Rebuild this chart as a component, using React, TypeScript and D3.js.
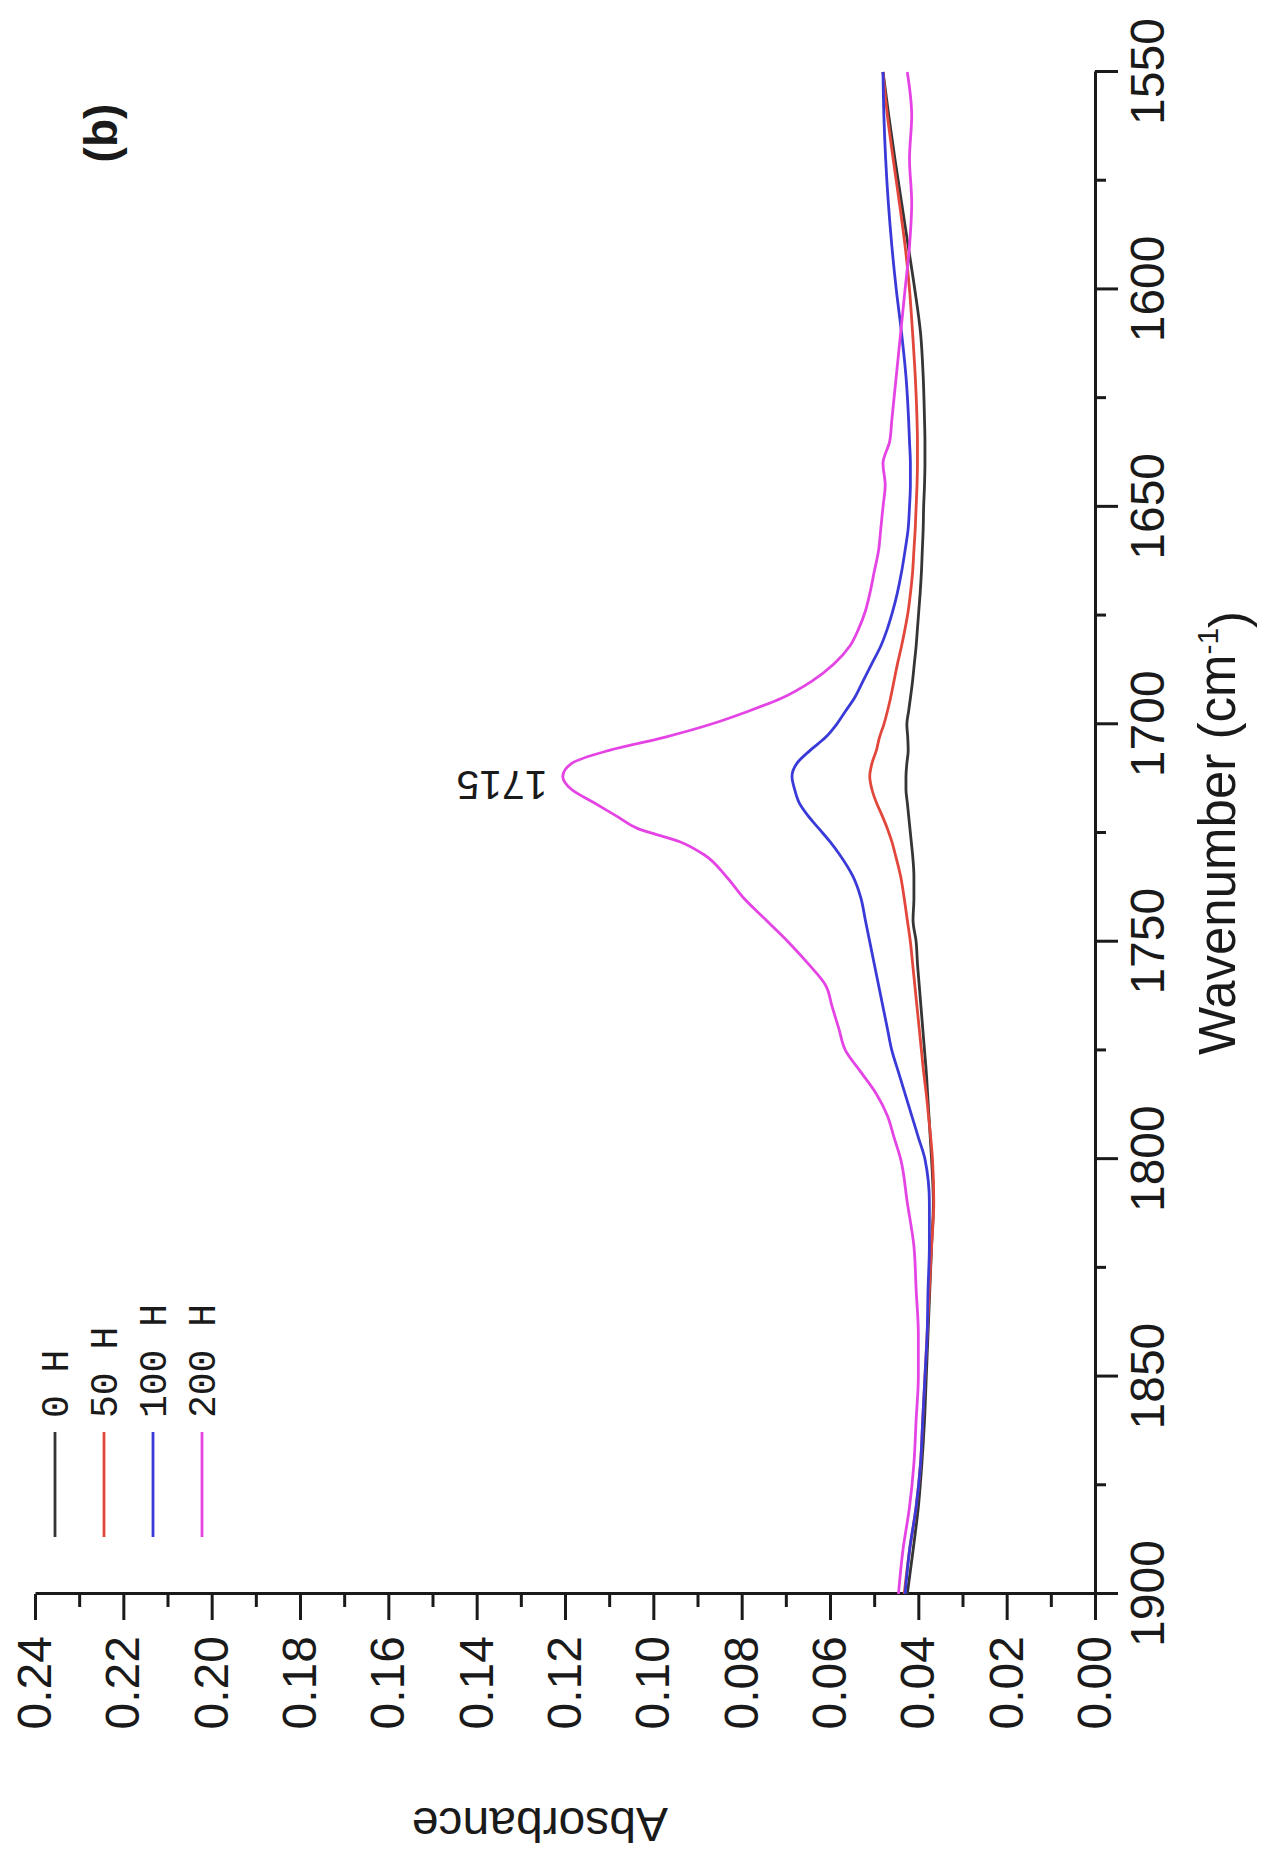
import React, { useRef, useEffect } from 'react';
import * as d3 from 'd3';

const wavenumbers = [
  1900, 1890, 1880, 1870, 1860, 1850, 1840, 1830, 1820, 1810, 1800,
  1795, 1790, 1785, 1780, 1775, 1770, 1765, 1760, 1755, 1750, 1745, 1740, 1735, 1730,
  1727, 1724, 1721, 1718, 1715, 1712, 1709, 1706, 1703, 1700, 1697, 1694,
  1690, 1686, 1682, 1678, 1674, 1670,
  1665, 1660, 1655, 1650, 1645, 1640, 1635, 1630,
  1620, 1610, 1600, 1590, 1580, 1570, 1560, 1550,
];

const abs0H = [
  0.0425, 0.0412, 0.04, 0.0392, 0.0386, 0.0382, 0.0378, 0.0374, 0.037, 0.0366, 0.037,
  0.0373, 0.0376, 0.0379, 0.0382, 0.0386, 0.039, 0.0394, 0.0398, 0.0402, 0.0405, 0.0412, 0.041, 0.041, 0.0413,
  0.0416, 0.0419, 0.0422, 0.0425, 0.0428, 0.0428, 0.0426, 0.0423, 0.0424, 0.0426, 0.0422, 0.0418,
  0.0413, 0.0409, 0.0405, 0.0402, 0.0399, 0.0396,
  0.0393, 0.0391, 0.0389, 0.0388, 0.0386, 0.0385, 0.0385, 0.0386,
  0.0389, 0.0395, 0.0408, 0.0423, 0.0438, 0.0453, 0.0467, 0.048,
];

const abs50H = [
  0.0432, 0.042, 0.0405, 0.0395, 0.039, 0.0385, 0.038, 0.0375, 0.037, 0.0365, 0.0368,
  0.0372, 0.0377, 0.0382, 0.0388, 0.0393, 0.0398, 0.0403, 0.0408, 0.0413, 0.0418, 0.0425, 0.0432, 0.044, 0.0452,
  0.046, 0.047, 0.0482, 0.0495, 0.0505, 0.051, 0.0505, 0.0495, 0.0488, 0.0478, 0.047, 0.0463,
  0.0455, 0.0447, 0.0438, 0.043, 0.0423, 0.0418,
  0.0413, 0.041, 0.0407, 0.0405, 0.0403, 0.0402, 0.0402, 0.0403,
  0.0407, 0.0413, 0.042, 0.043, 0.0443, 0.0457, 0.047, 0.048,
];

const abs100H = [
  0.043, 0.042, 0.0405, 0.0395, 0.039, 0.0385, 0.038, 0.0378, 0.0375, 0.0375, 0.0385,
  0.04, 0.0415, 0.043, 0.0445, 0.046, 0.047, 0.048, 0.049, 0.05, 0.051, 0.052, 0.053, 0.0548, 0.0578,
  0.06, 0.0625, 0.065, 0.067, 0.068, 0.0686, 0.0675, 0.0645, 0.061, 0.0585, 0.0565, 0.0545,
  0.0525, 0.0505, 0.0485, 0.047, 0.0458, 0.0448,
  0.0438, 0.043, 0.0423, 0.042, 0.0418, 0.0418, 0.042, 0.0422,
  0.0428, 0.0438, 0.045, 0.046, 0.0468, 0.0474, 0.0478, 0.048,
];

const abs200H = [
  0.0445, 0.0435, 0.042, 0.041, 0.0405, 0.04, 0.04, 0.0405, 0.041, 0.0425, 0.044,
  0.0455, 0.047, 0.0495, 0.053, 0.0565, 0.058, 0.0595, 0.061, 0.065, 0.0695, 0.0745, 0.0795, 0.0835, 0.0885,
  0.094, 0.1035, 0.1085, 0.1135, 0.1185, 0.1205, 0.1185, 0.11, 0.0975, 0.087, 0.0785, 0.071,
  0.064, 0.059, 0.0555, 0.0535, 0.052, 0.051,
  0.05, 0.049, 0.0485, 0.048, 0.0475, 0.048, 0.0465, 0.046,
  0.045, 0.044, 0.043, 0.042, 0.0415, 0.042, 0.0415, 0.0425,
];

const seriesNames = ['0 H', '50 H', '100 H', '200 H'];
const seriesColors = ['#353535', '#e2473c', '#3a3ad8', '#e544e5'];

const wnMajorTicks = [1900, 1850, 1800, 1750, 1700, 1650, 1600, 1550];
const wnMinorTicks = [1875, 1825, 1775, 1725, 1675, 1625, 1575];
const absMajorTicks = [0, 0.02, 0.04, 0.06, 0.08, 0.1, 0.12, 0.14, 0.16, 0.18, 0.2, 0.22, 0.24];
const absMinorTicks = [0.01, 0.03, 0.05, 0.07, 0.09, 0.11, 0.13, 0.15, 0.17, 0.19, 0.21, 0.23];

const App: React.FC = () => {
  const svgRef = useRef<SVGSVGElement | null>(null);

  useEffect(() => {
    if (!svgRef.current) return;
    const svg = d3.select(svgRef.current);
    svg.selectAll('*').remove();

    // plot is drawn upright, then turned a quarter turn counter-clockwise
    const plotW = 1522;
    const plotH = 1060;
    const font = "'Liberation Sans', Arial, sans-serif";

    const g = svg.append('g').attr('transform', 'translate(35,1594) rotate(-90)');

    const x = d3.scaleLinear().domain([1900, 1550]).range([0, plotW]);
    const y = d3.scaleLinear().domain([0, 0.24]).range([plotH, 0]);

    // bottom axis (wavenumber)
    const xAxis = g
      .append('g')
      .attr('transform', `translate(0,${plotH})`)
      .call(
        d3
          .axisBottom(x)
          .tickValues(wnMajorTicks)
          .tickSize(23)
          .tickPadding(12)
          .tickSizeOuter(0)
          .tickFormat(d3.format('d') as any),
      );
    const xMinor = g
      .append('g')
      .attr('transform', `translate(0,${plotH})`)
      .call(d3.axisBottom(x).tickValues(wnMinorTicks).tickSize(11).tickFormat(() => ''));
    xMinor.select('.domain').remove();

    // left axis (absorbance)
    const yAxis = g
      .append('g')
      .call(
        d3
          .axisLeft(y)
          .tickValues(absMajorTicks)
          .tickSize(26)
          .tickPadding(16)
          .tickSizeOuter(0)
          .tickFormat(d3.format('.2f') as any),
      );
    const yMinor = g
      .append('g')
      .call(d3.axisLeft(y).tickValues(absMinorTicks).tickSize(13).tickFormat(() => ''));
    yMinor.select('.domain').remove();

    [xAxis, xMinor, yAxis, yMinor].forEach((a) => {
      a.selectAll('path, line').attr('stroke', '#1a1a1a').attr('stroke-width', 3);
      a.selectAll('text')
        .attr('fill', '#1a1a1a')
        .style('font-family', font)
        .style('font-size', '48px');
    });

    // spectra
    const allSeries = [abs0H, abs50H, abs100H, abs200H];
    const line = d3
      .line<number>()
      .x((_, i) => x(wavenumbers[i]))
      .y((d) => y(d))
      .curve(d3.curveMonotoneX);

    allSeries.forEach((vals, k) => {
      g.append('path')
        .datum(vals)
        .attr('d', line)
        .attr('fill', 'none')
        .attr('stroke', seriesColors[k])
        .attr('stroke-width', 2.8)
        .attr('stroke-linejoin', 'round');
    });

    // axis titles
    const xTitle = g
      .append('text')
      .attr('x', plotW / 2)
      .attr('y', plotH + 122)
      .attr('dy', '0.35em')
      .attr('text-anchor', 'middle')
      .attr('fill', '#1a1a1a')
      .style('font-family', font)
      .style('font-size', '51px');
    xTitle.append('tspan').text('Wavenumber (cm');
    xTitle.append('tspan').attr('dy', '-0.55em').style('font-size', '30px').text('-1');
    xTitle.append('tspan').attr('dy', '0.55em').text(')');

    g.append('text')
      .attr('transform', `translate(-231,505) rotate(-90)`)
      .attr('dy', '0.35em')
      .attr('text-anchor', 'middle')
      .attr('fill', '#1a1a1a')
      .style('font-family', font)
      .style('font-size', '48px')
      .text('Absorbance');

    // peak label
    g.append('text')
      .attr('transform', `translate(${x(1714)},467) rotate(-90)`)
      .attr('dy', '0.35em')
      .attr('text-anchor', 'middle')
      .attr('fill', '#1a1a1a')
      .style('font-family', font)
      .style('font-size', '41px')
      .text('1715');

    // panel label
    g.append('text')
      .attr('x', 1461)
      .attr('y', 66)
      .attr('dy', '0.35em')
      .attr('text-anchor', 'middle')
      .attr('fill', '#1a1a1a')
      .style('font-family', font)
      .style('font-size', '46px')
      .style('font-weight', 'bold')
      .text('(b)');

    // legend
    const legend = g.append('g');
    seriesNames.forEach((name, k) => {
      const ly = 20 + k * 49;
      legend
        .append('line')
        .attr('x1', 57)
        .attr('x2', 162)
        .attr('y1', ly)
        .attr('y2', ly)
        .attr('stroke', seriesColors[k])
        .attr('stroke-width', 2.8);
      legend
        .append('text')
        .attr('x', 176)
        .attr('y', ly)
        .attr('dy', '0.35em')
        .attr('fill', '#1a1a1a')
        .style('font-family', "'Liberation Mono', monospace")
        .style('font-size', '38px')
        .text(name);
    });
  }, []);

  return (
    <svg
      ref={svgRef}
      width={1263}
      height={1854}
      style={{ position: 'absolute', left: 0, top: 0, background: '#fff' }}
    />
  );
};

export default App;
